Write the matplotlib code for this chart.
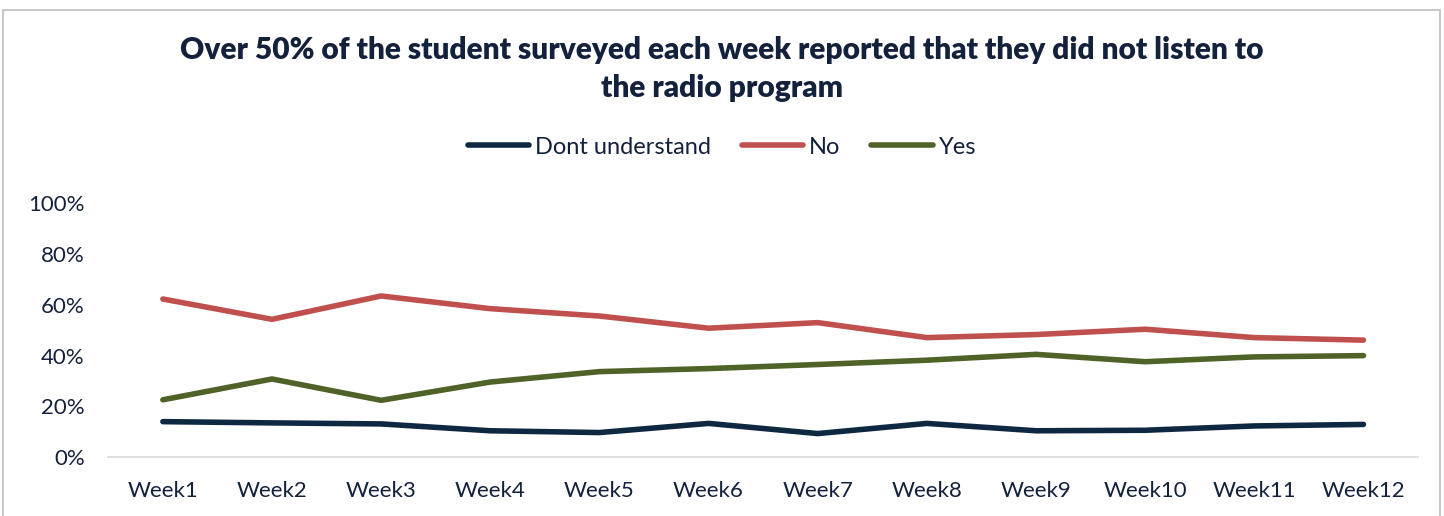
import matplotlib.pyplot as plt
from matplotlib.patches import Rectangle
from matplotlib.ticker import PercentFormatter

plt.rcParams['font.family'] = ['Lato', 'DejaVu Sans']

weeks = [f'Week{i}' for i in range(1, 13)]
dont_understand = [14.0, 13.5, 13.1, 10.4, 9.7, 13.3, 9.3, 13.3, 10.4, 10.6, 12.3, 12.9]
no = [62.3, 54.3, 63.5, 58.5, 55.6, 50.8, 53.0, 47.1, 48.3, 50.4, 47.1, 46.1]
yes = [22.6, 30.8, 22.4, 29.6, 33.7, 34.9, 36.5, 38.2, 40.5, 37.6, 39.5, 40.0]

text_color = '#14213D'
series = [
    ('Dont understand', dont_understand, '#0E2841'),
    ('No', no, '#C0504D'),
    ('Yes', yes, '#4F6228'),
]

fig = plt.figure(figsize=(14.44, 5.16), dpi=100)
ax = fig.add_axes([0.075, 0.114, 0.907, 0.492])

for label, values, color in series:
    ax.plot(weeks, values, color=color, lw=4, solid_capstyle='round',
            solid_joinstyle='round', label=label)

ax.set_ylim(0, 100)
ax.set_xlim(-0.5, 11.5)
ax.set_yticks(range(0, 101, 20))
ax.yaxis.set_major_formatter(PercentFormatter(decimals=0))
ax.tick_params(axis='both', length=0, labelsize=16, colors=text_color)
ax.tick_params(axis='y', pad=17)
ax.tick_params(axis='x', pad=17)
for side in ['top', 'right', 'left']:
    ax.spines[side].set_visible(False)
ax.spines['bottom'].set_color('#D9D9D9')
ax.spines['bottom'].set_linewidth(1.2)

fig.suptitle('Over 50% of the student surveyed each week reported that they did not listen to\nthe radio program',
             x=0.5, y=0.93, fontsize=21.5, fontweight='heavy', color=text_color,
             linespacing=1.45)

fig.legend(loc='center', bbox_to_anchor=(0.5, 0.715), ncol=3, frameon=False,
           fontsize=17, handlelength=2.6, handletextpad=0.25, columnspacing=1.3,
           labelcolor=text_color)

# light frame around the chart area
fig.patches.append(Rectangle((0.002, -0.05), 0.995, 1.03, transform=fig.transFigure,
                             fill=False, edgecolor='#BFBFBF', lw=1.2))

fig.savefig('out.png', dpi=100, facecolor='white')
